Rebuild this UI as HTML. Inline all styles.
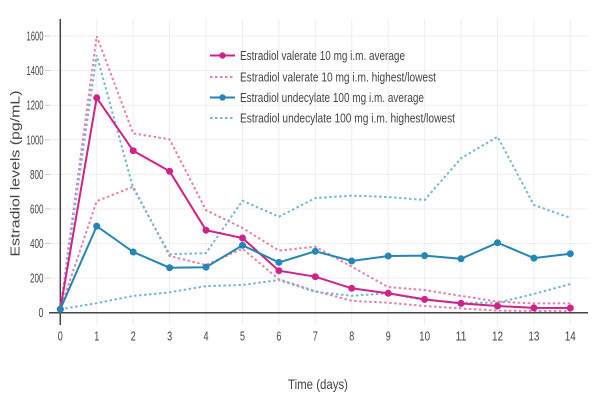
<!DOCTYPE html>
<html>
<head>
<meta charset="utf-8">
<style>
  html,body{margin:0;padding:0;background:#fff;}
  svg{display:block;}
  text{font-family:"Liberation Sans",sans-serif;fill:#444;}
</style>
</head>
<body>
<svg width="600" height="400" viewBox="0 0 600 400" xmlns="http://www.w3.org/2000/svg">
  <rect width="600" height="400" fill="#fff"/>
  <!-- vertical grid -->
  <g stroke="#eeeeee" stroke-width="1">
    <line x1="96.7" y1="19" x2="96.7" y2="325"/>
    <line x1="133.2" y1="19" x2="133.2" y2="325"/>
    <line x1="169.6" y1="19" x2="169.6" y2="325"/>
    <line x1="206.0" y1="19" x2="206.0" y2="325"/>
    <line x1="242.5" y1="19" x2="242.5" y2="325"/>
    <line x1="278.9" y1="19" x2="278.9" y2="325"/>
    <line x1="315.3" y1="19" x2="315.3" y2="325"/>
    <line x1="351.7" y1="19" x2="351.7" y2="325"/>
    <line x1="388.2" y1="19" x2="388.2" y2="325"/>
    <line x1="424.6" y1="19" x2="424.6" y2="325"/>
    <line x1="461.0" y1="19" x2="461.0" y2="325"/>
    <line x1="497.5" y1="19" x2="497.5" y2="325"/>
    <line x1="533.9" y1="19" x2="533.9" y2="325"/>
    <line x1="570.3" y1="19" x2="570.3" y2="325"/>
  </g>
  <!-- horizontal grid -->
  <g stroke="#eeeeee" stroke-width="1">
    <line x1="50" y1="278.1" x2="588" y2="278.1"/>
    <line x1="50" y1="243.5" x2="588" y2="243.5"/>
    <line x1="50" y1="208.9" x2="588" y2="208.9"/>
    <line x1="50" y1="174.4" x2="588" y2="174.4"/>
    <line x1="50" y1="139.8" x2="588" y2="139.8"/>
    <line x1="50" y1="105.2" x2="588" y2="105.2"/>
    <line x1="50" y1="70.6" x2="588" y2="70.6"/>
    <line x1="50" y1="36.0" x2="588" y2="36.0"/>
  </g>
  <!-- y ticks -->
  <g stroke="#cccccc" stroke-width="1">
    <line x1="45" y1="278.1" x2="50" y2="278.1"/>
    <line x1="45" y1="243.5" x2="50" y2="243.5"/>
    <line x1="45" y1="208.9" x2="50" y2="208.9"/>
    <line x1="45" y1="174.4" x2="50" y2="174.4"/>
    <line x1="45" y1="139.8" x2="50" y2="139.8"/>
    <line x1="45" y1="105.2" x2="50" y2="105.2"/>
    <line x1="45" y1="70.6" x2="50" y2="70.6"/>
    <line x1="45" y1="36.0" x2="50" y2="36.0"/>
  </g>
  <!-- zero lines -->
  <line x1="60.3" y1="19" x2="60.3" y2="325" stroke="#444" stroke-width="1.5"/>
  <line x1="49" y1="312.7" x2="588" y2="312.7" stroke="#444" stroke-width="1.5"/>

  <!-- y tick labels -->
  <g font-size="13" text-anchor="end">
    <text x="43.5" y="317.2" textLength="5" lengthAdjust="spacingAndGlyphs">0</text>
    <text x="43.5" y="282.6" textLength="13.5" lengthAdjust="spacingAndGlyphs">200</text>
    <text x="43.5" y="248.0" textLength="13.5" lengthAdjust="spacingAndGlyphs">400</text>
    <text x="43.5" y="213.4" textLength="13.5" lengthAdjust="spacingAndGlyphs">600</text>
    <text x="43.5" y="178.9" textLength="13.5" lengthAdjust="spacingAndGlyphs">800</text>
    <text x="43.5" y="144.3" textLength="17" lengthAdjust="spacingAndGlyphs">1000</text>
    <text x="43.5" y="109.7" textLength="17" lengthAdjust="spacingAndGlyphs">1200</text>
    <text x="43.5" y="75.1" textLength="17" lengthAdjust="spacingAndGlyphs">1400</text>
    <text x="43.5" y="40.5" textLength="17" lengthAdjust="spacingAndGlyphs">1600</text>
  </g>
  <!-- x tick labels -->
  <g font-size="13" text-anchor="middle">
    <text x="60.3" y="340.5" textLength="5" lengthAdjust="spacingAndGlyphs">0</text>
    <text x="96.7" y="340.5" textLength="5" lengthAdjust="spacingAndGlyphs">1</text>
    <text x="133.2" y="340.5" textLength="5" lengthAdjust="spacingAndGlyphs">2</text>
    <text x="169.6" y="340.5" textLength="5" lengthAdjust="spacingAndGlyphs">3</text>
    <text x="206.0" y="340.5" textLength="5" lengthAdjust="spacingAndGlyphs">4</text>
    <text x="242.5" y="340.5" textLength="5" lengthAdjust="spacingAndGlyphs">5</text>
    <text x="278.9" y="340.5" textLength="5" lengthAdjust="spacingAndGlyphs">6</text>
    <text x="315.3" y="340.5" textLength="5" lengthAdjust="spacingAndGlyphs">7</text>
    <text x="351.7" y="340.5" textLength="5" lengthAdjust="spacingAndGlyphs">8</text>
    <text x="388.2" y="340.5" textLength="5" lengthAdjust="spacingAndGlyphs">9</text>
    <text x="424.6" y="340.5" textLength="11" lengthAdjust="spacingAndGlyphs">10</text>
    <text x="461.0" y="340.5" textLength="11" lengthAdjust="spacingAndGlyphs">11</text>
    <text x="497.5" y="340.5" textLength="11" lengthAdjust="spacingAndGlyphs">12</text>
    <text x="533.9" y="340.5" textLength="11" lengthAdjust="spacingAndGlyphs">13</text>
    <text x="570.3" y="340.5" textLength="11" lengthAdjust="spacingAndGlyphs">14</text>
  </g>

  <!-- axis titles -->
  <text x="318" y="389" font-size="14" text-anchor="middle" textLength="60" lengthAdjust="spacingAndGlyphs">Time (days)</text>
  <text transform="translate(19.5,173.5) rotate(-90)" x="0" y="0" font-size="13" fill="#555" text-anchor="middle" textLength="166" lengthAdjust="spacingAndGlyphs">Estradiol levels (pg/mL)</text>

  <!-- EV highest/lowest -->
  <g fill="none" stroke="#e67fa9" stroke-width="2" stroke-dasharray="2.5,2.5">
    <polyline points="60.3,309.2 96.7,36.1 133.2,133.4 169.6,139.3 206.0,210.2 242.5,228.0 278.9,250.6 315.3,246.7 351.7,266.7 388.2,287.1 424.6,290.0 461.0,295.9 497.5,301.6 533.9,303.4 570.3,303.4"/>
    <polyline points="60.3,309.2 96.7,201.2 133.2,186.7 169.6,256.0 206.0,265.0 242.5,248.7 278.9,279.3 315.3,291.1 351.7,300.8 388.2,302.7 424.6,306.0 461.0,308.4 497.5,310.6 533.9,311.0 570.3,311.0"/>
  </g>
  <!-- EU highest/lowest -->
  <g fill="none" stroke="#7ab6cf" stroke-width="2" stroke-dasharray="2.5,2.5">
    <polyline points="60.3,309.2 96.7,55.1 133.2,188.2 169.6,254.3 206.0,253.1 242.5,200.7 278.9,216.7 315.3,198.1 351.7,195.6 388.2,197.0 424.6,200.0 461.0,158.3 497.5,136.7 533.9,205.0 570.3,217.8"/>
    <polyline points="60.3,309.2 96.7,303.2 133.2,295.9 169.6,292.3 206.0,286.1 242.5,285.0 278.9,280.0 315.3,291.8 351.7,295.8 388.2,293.3 424.6,300.1 461.0,302.7 497.5,302.7 533.9,294.0 570.3,284.0"/>
  </g>

  <!-- EV average -->
  <g fill="#d0228a" stroke="#d0228a">
    <polyline fill="none" stroke-width="2" points="60.3,309.2 96.7,97.8 133.2,150.7 169.6,171.3 206.0,230.2 242.5,238.0 278.9,270.7 315.3,276.7 351.7,288.3 388.2,293.3 424.6,299.4 461.0,303.4 497.5,306.0 533.9,307.9 570.3,308.0"/>
    <g stroke="none">
      <circle cx="60.3" cy="309.2" r="3.5"/>
      <circle cx="96.7" cy="97.8" r="3.5"/>
      <circle cx="133.2" cy="150.7" r="3.5"/>
      <circle cx="169.6" cy="171.3" r="3.5"/>
      <circle cx="206.0" cy="230.2" r="3.5"/>
      <circle cx="242.5" cy="238.0" r="3.5"/>
      <circle cx="278.9" cy="270.7" r="3.5"/>
      <circle cx="315.3" cy="276.7" r="3.5"/>
      <circle cx="351.7" cy="288.3" r="3.5"/>
      <circle cx="388.2" cy="293.3" r="3.5"/>
      <circle cx="424.6" cy="299.4" r="3.5"/>
      <circle cx="461.0" cy="303.4" r="3.5"/>
      <circle cx="497.5" cy="306.0" r="3.5"/>
      <circle cx="533.9" cy="307.9" r="3.5"/>
      <circle cx="570.3" cy="308.0" r="3.5"/>
    </g>
  </g>
  <!-- EU average -->
  <g fill="#2386b6" stroke="#2386b6">
    <polyline fill="none" stroke-width="2" points="60.3,309.2 96.7,226.1 133.2,252.0 169.6,267.7 206.0,267.2 242.5,245.3 278.9,262.4 315.3,251.3 351.7,261.0 388.2,256.0 424.6,255.6 461.0,258.8 497.5,242.7 533.9,258.1 570.3,253.7"/>
    <g stroke="none">
      <circle cx="60.3" cy="309.2" r="3.5"/>
      <circle cx="96.7" cy="226.1" r="3.5"/>
      <circle cx="133.2" cy="252.0" r="3.5"/>
      <circle cx="169.6" cy="267.7" r="3.5"/>
      <circle cx="206.0" cy="267.2" r="3.5"/>
      <circle cx="242.5" cy="245.3" r="3.5"/>
      <circle cx="278.9" cy="262.4" r="3.5"/>
      <circle cx="315.3" cy="251.3" r="3.5"/>
      <circle cx="351.7" cy="261.0" r="3.5"/>
      <circle cx="388.2" cy="256.0" r="3.5"/>
      <circle cx="424.6" cy="255.6" r="3.5"/>
      <circle cx="461.0" cy="258.8" r="3.5"/>
      <circle cx="497.5" cy="242.7" r="3.5"/>
      <circle cx="533.9" cy="258.1" r="3.5"/>
      <circle cx="570.3" cy="253.7" r="3.5"/>
    </g>
  </g>

  <!-- legend -->
  <g>
    <line x1="210" y1="55.5" x2="235" y2="55.5" stroke="#d0228a" stroke-width="2"/>
    <circle cx="222.5" cy="55.5" r="3.2" fill="#d0228a"/>
    <line x1="210" y1="77" x2="235" y2="77" stroke="#e67fa9" stroke-width="2" stroke-dasharray="2.5,2.5"/>
    <line x1="210" y1="97.5" x2="235" y2="97.5" stroke="#2386b6" stroke-width="2"/>
    <circle cx="222.5" cy="97.5" r="3.2" fill="#2386b6"/>
    <line x1="210" y1="118" x2="235" y2="118" stroke="#7ab6cf" stroke-width="2" stroke-dasharray="2.5,2.5"/>
    <g font-size="13">
      <text x="240" y="60.2" textLength="165" lengthAdjust="spacingAndGlyphs">Estradiol valerate 10 mg i.m. average</text>
      <text x="240" y="81.7" textLength="196" lengthAdjust="spacingAndGlyphs">Estradiol valerate 10 mg i.m. highest/lowest</text>
      <text x="240" y="102.2" textLength="184" lengthAdjust="spacingAndGlyphs">Estradiol undecylate 100 mg i.m. average</text>
      <text x="240" y="122.7" textLength="215" lengthAdjust="spacingAndGlyphs">Estradiol undecylate 100 mg i.m. highest/lowest</text>
    </g>
  </g>
</svg>
</body>
</html>
